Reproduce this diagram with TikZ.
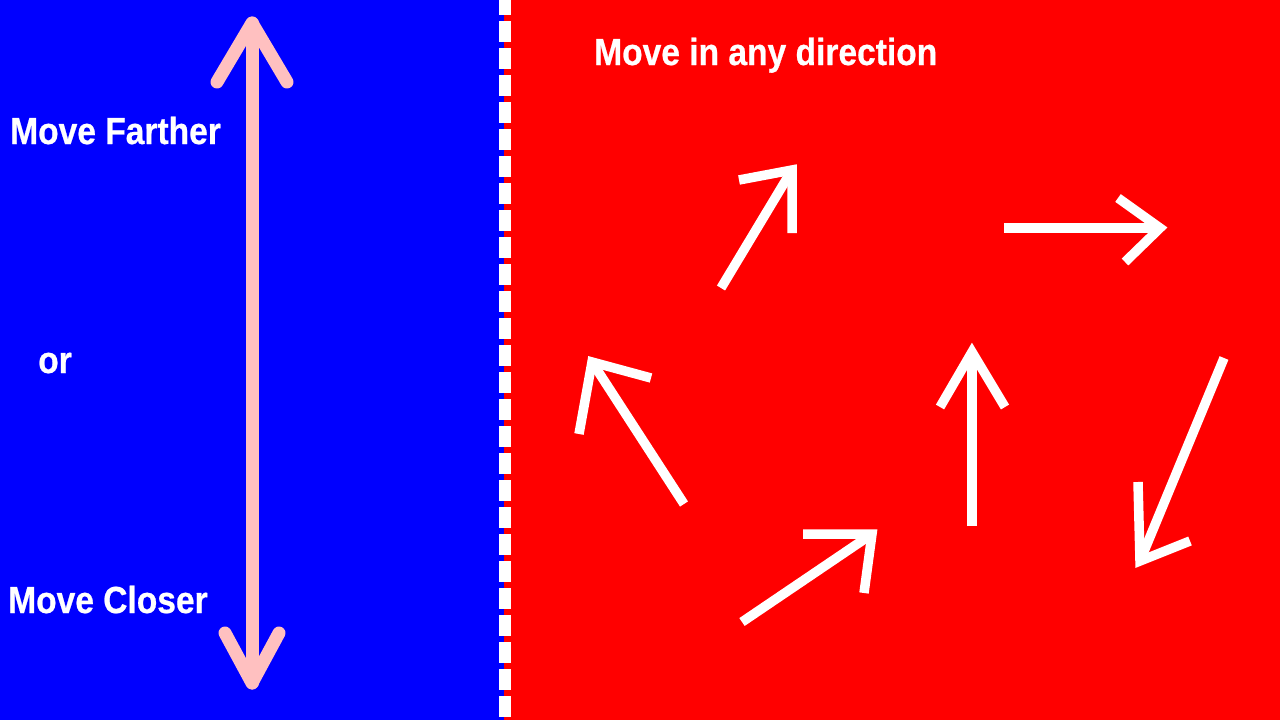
\documentclass[tikz,border=0pt]{standalone}
\usepackage{fontspec}
\setmainfont{Liberation Sans}[FakeStretch=0.89,BoldFeatures={FakeBold=0.6}]
\definecolor{sideblue}{RGB}{0,0,255}
\definecolor{sidered}{RGB}{255,0,0}
\definecolor{pinkline}{RGB}{255,192,192}

% shaft from #1 to tip #2, barbs #3 and #4
\newcommand{\movearrow}[4]{%
\draw[movearrow] (#1)--(#2);
\draw[movearrow] (#3)--(#2)--(#4);
}

\begin{document}
\begin{tikzpicture}[x=1pt,y=-1pt,
  movearrow/.style={white,line width=9.5pt,line join=miter,line cap=butt},
  pinkarrow/.style={pinkline,line width=13pt,line cap=round,line join=round},
  sidelabel/.style={white,anchor=base west,inner sep=0pt,font=\fontsize{37.7}{40}\selectfont\bfseries}]
\useasboundingbox (0,0) rectangle (1280,720);
% the two halves
\fill[sideblue] (0,0) rectangle (504,720);
\fill[sidered] (504,0) rectangle (1280,720);
\draw[white,line width=12pt,dash pattern=on 21pt off 6pt,dash phase=6pt] (505,0)--(505,720);

% left half: farther or closer
\coordinate (ptop) at (252,23);
\coordinate (pbot) at (252,683);
\draw[pinkarrow] (ptop)--(pbot);
\draw[pinkarrow] (217,82)--(ptop)--(287,82);
\draw[pinkarrow] (225,633)--(pbot)--(279,633);

\node[sidelabel] (farther) at (10,144) {Move Farther};
\node[sidelabel] (orlabel) at (38,373) {or};
\node[sidelabel] (closer) at (8,613) {Move Closer};

% right half: any direction
\node[sidelabel] (anydir) at (594,65) {Move in any direction};

\movearrow{721,288}{792,170}{739,180}{792,233}
\movearrow{1004,228}{1160,228}{1118,198}{1125,262}
\movearrow{684,504}{592,362}{579,434}{651,378}
\movearrow{972,526}{972,352}{940,407}{1005,407}
\movearrow{742,622}{872,534}{803,534}{864,593}
\movearrow{1224,358}{1140,561}{1138,482}{1190,541}
\end{tikzpicture}
\end{document}
